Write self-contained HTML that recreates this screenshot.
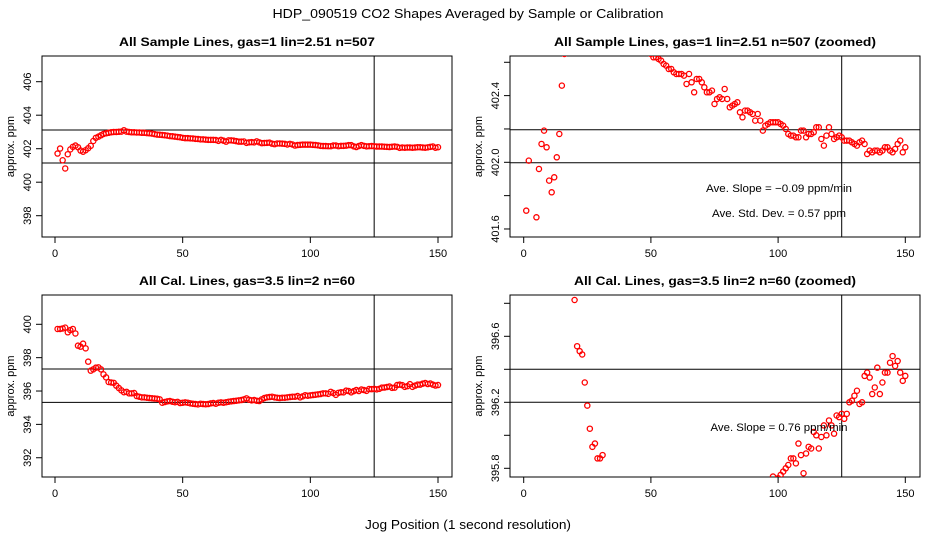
<!DOCTYPE html>
<html><head><meta charset="utf-8"><style>
html,body{margin:0;padding:0;background:#fff;overflow:hidden;width:936px;height:540px;}
svg{display:block;font-family:"Liberation Sans",sans-serif;}
</style></head><body>
<svg id="chart" width="936" height="540" viewBox="0 0 936 540">
<text x="468" y="18" text-anchor="middle" font-size="13" textLength="391" lengthAdjust="spacingAndGlyphs">HDP_090519  CO2 Shapes Averaged by Sample or Calibration</text>
<text x="468" y="529" text-anchor="middle" font-size="13" textLength="206" lengthAdjust="spacingAndGlyphs">Jog Position (1 second resolution)</text>
</svg>
<script>
// ---- data ----
const positions = [];
for (let i = 1; i <= 150; i++) positions.push(i);
const sampleValues = [
401.71,402.01,401.31,400.82,401.67,401.96,402.11,402.19,402.09,401.89,
401.82,401.91,402.03,402.17,402.46,402.65,402.72,402.80,402.88,402.92,
402.95,402.98,403.00,403.00,403.01,403.02,403.10,403.02,403.00,402.98,
402.98,402.97,402.97,402.95,402.95,402.93,402.92,402.90,402.87,402.84,
402.83,402.82,402.80,402.78,402.75,402.74,402.72,402.70,402.68,402.65,
402.63,402.63,402.62,402.61,402.59,402.58,402.56,402.56,402.54,402.53,
402.53,402.53,402.52,402.47,402.53,402.48,402.42,402.50,402.50,402.48,
402.45,402.42,402.42,402.43,402.35,402.38,402.39,402.38,402.44,402.38,
402.33,402.34,402.35,402.36,402.30,402.27,402.31,402.31,402.30,402.29,
402.25,402.29,402.25,402.19,402.22,402.23,402.24,402.24,402.24,402.24,
402.23,402.22,402.20,402.17,402.16,402.16,402.15,402.15,402.19,402.19,
402.15,402.17,402.17,402.18,402.21,402.21,402.14,402.10,402.16,402.21,
402.17,402.14,402.15,402.16,402.15,402.13,402.13,402.13,402.12,402.11,
402.10,402.12,402.13,402.11,402.05,402.07,402.06,402.07,402.07,402.06,
402.07,402.09,402.09,402.07,402.06,402.08,402.11,402.13,402.06,402.09];
const calValues = [
399.72,399.72,399.75,399.80,399.52,399.65,399.72,399.45,398.72,398.66,
398.84,398.56,397.76,397.22,397.30,397.40,397.42,397.30,397.00,396.82,
396.54,396.51,396.49,396.32,396.18,396.04,395.93,395.95,395.86,395.86,
395.88,395.70,395.66,395.62,395.62,395.60,395.58,395.57,395.55,395.54,
395.50,395.30,395.34,395.38,395.40,395.36,395.33,395.35,395.28,395.30,
395.32,395.30,395.26,395.24,395.22,395.20,395.24,395.22,395.21,395.22,
395.26,395.28,395.24,395.30,395.32,395.30,395.33,395.36,395.38,395.40,
395.42,395.44,395.46,395.50,395.56,395.48,395.44,395.46,395.42,395.40,
395.50,395.58,395.62,395.64,395.66,395.62,395.60,395.58,395.60,395.60,
395.62,395.64,395.66,395.66,395.70,395.62,395.68,395.75,395.72,395.74,
395.76,395.78,395.80,395.82,395.86,395.86,395.83,395.95,395.88,395.77,
395.89,395.93,395.92,396.02,396.00,395.92,395.99,396.06,396.00,396.09,
396.06,396.01,396.12,396.11,396.13,396.10,396.13,396.20,396.21,396.24,
396.27,396.19,396.20,396.36,396.38,396.35,396.25,396.29,396.41,396.25,
396.32,396.38,396.38,396.44,396.48,396.42,396.45,396.38,396.33,396.36];
const xTicks = [0,50,100,150];
const ticksSample = [398,400,402,404,406];
const ticksSampleZoom = [401.6,401.8,402.0,402.2,402.4,402.6];
const labelsSampleZoom = ["401.6","","402.0","","402.4",""];
const ticksCal = [392,394,396,398,400];
const ticksCalZoom = [395.8,396.0,396.2,396.4,396.6,396.8];
const labelsCalZoom = ["395.8","","396.2","","396.6",""];
const hLinesSample = [403.12,401.15];
const hLinesSampleZoom = [402.195,401.997];
const hLinesCal = [397.32,395.32];
const hLinesCalZoom = [396.40,396.20];
const vLine = [125];

const NS = "http://www.w3.org/2000/svg";
const svg = document.getElementById('chart');
function mk(tag, attrs, parent){ const e=document.createElementNS(NS,tag); for(const k in attrs) e.setAttribute(k,attrs[k]); (parent||svg).appendChild(e); return e; }

function panel(p){
  const g = mk('g',{});
  
  
  const xs = v => p.x0 + (v - 0) * (p.x150 - p.x0) / 150;
  const ys = v => p.yRef - (v - p.vRef) * p.pxPerUnit;
  const t = mk('text',{x:(p.L+p.R)/2, y:p.T-10, 'text-anchor':'middle','font-size':12,'font-weight':'bold',textLength:p.tl,lengthAdjust:'spacingAndGlyphs'},g);
  t.textContent = p.title;
  
  
  const cid = 'clip-' + p.name;
  const cp = mk('clipPath',{id:cid},g);
  mk('rect',{x:p.L,y:p.T,width:p.R-p.L,height:p.B-p.T},cp);
  const box = mk('rect',{x:p.L,y:p.T,width:p.R-p.L,height:p.B-p.T,fill:'none',stroke:'#000','stroke-width':1},g);
  
  
  xTicks.forEach(v=>{
    const x = xs(v);
    mk('line',{x1:x,x2:x,y1:p.B,y2:p.B+6,stroke:'#000'},g);
    const tx = mk('text',{x:x,y:p.B+20,'text-anchor':'middle','font-size':11},g);
    tx.textContent = v;
    
    
  });
  p.yt.forEach((v,i)=>{
    const y = ys(v);
    mk('line',{x1:p.L-6,x2:p.L,y1:y,y2:y,stroke:'#000'},g);
    const lab = p.yl ? p.yl[i] : String(v);
    if(lab){
      const ty = mk('text',{x:p.L-11,y:y,'text-anchor':'middle','font-size':11,transform:`rotate(-90 ${p.L-11} ${y})`},g);
      ty.textContent = lab;
      
      
    }
  });
  const yx = p.L-28;
  const yt = mk('text',{x:yx,y:(p.T+p.B)/2,'text-anchor':'middle','font-size':11,transform:`rotate(-90 ${yx} ${(p.T+p.B)/2})`},g);
  yt.textContent = 'approx. ppm';
  
  
  p.hl.forEach(v=>{
    const hl = mk('line',{x1:p.L,x2:p.R,y1:ys(v),y2:ys(v),stroke:'#000'},g);
    
    
  });
  vLine.forEach(v=>{
    const vl = mk('line',{x1:xs(v),x2:xs(v),y1:p.T,y2:p.B,stroke:'#000'},g);
    
    
  });
  const pg = mk('g',{'clip-path':`url(#${cid})`},g);
  p.vals.forEach((v,i)=>{
    const c = mk('circle',{cx:xs(positions[i]),cy:ys(v),r:2.6,fill:'none',stroke:'#f00','stroke-width':1.3},pg);
    
    
  });
  (p.notes||[]).forEach(n=>{
    const nt = mk('text',{x:n[0],y:n[1],'text-anchor':'middle','font-size':11,textLength:n[3],lengthAdjust:'spacingAndGlyphs'},g);
    nt.textContent = n[2];
    
    
  });
}

panel({name:'sample-panel',title:'All Sample Lines, gas=1 lin=2.51 n=507',tl:256,L:42,R:452,T:56,B:237,x0:55,x150:438,
  vRef:402,yRef:148.7,pxPerUnit:16.75,yt:ticksSample,hl:hLinesSample,vals:sampleValues});
panel({name:'sample-zoom-panel',title:'All Sample Lines, gas=1 lin=2.51 n=507 (zoomed)',tl:322,L:510,R:920,T:56,B:237,x0:523.7,x150:905.3,
  vRef:402,yRef:162.3,pxPerUnit:166.7,yt:ticksSampleZoom,yl:labelsSampleZoom,hl:hLinesSampleZoom,vals:sampleValues,
  notes:[[779,192,'Ave. Slope =  \u22120.09  ppm/min',146],[779,217,'Ave. Std. Dev. =  0.57  ppm',134]]});
panel({name:'cal-panel',title:'All Cal. Lines, gas=3.5 lin=2 n=60',tl:216,L:42,R:452,T:295,B:477,x0:55,x150:438,
  vRef:400,yRef:324.3,pxPerUnit:16.68,yt:ticksCal,hl:hLinesCal,vals:calValues});
panel({name:'cal-zoom-panel',title:'All Cal. Lines, gas=3.5 lin=2 n=60 (zoomed)',tl:282,L:510,R:920,T:295,B:477,x0:523.7,x150:905.3,
  vRef:396.2,yRef:402.3,pxPerUnit:165,yt:ticksCalZoom,yl:labelsCalZoom,hl:hLinesCalZoom,vals:calValues,
  notes:[[779,431,'Ave. Slope =  0.76  ppm/min',137]]});
</script>
</body></html>
